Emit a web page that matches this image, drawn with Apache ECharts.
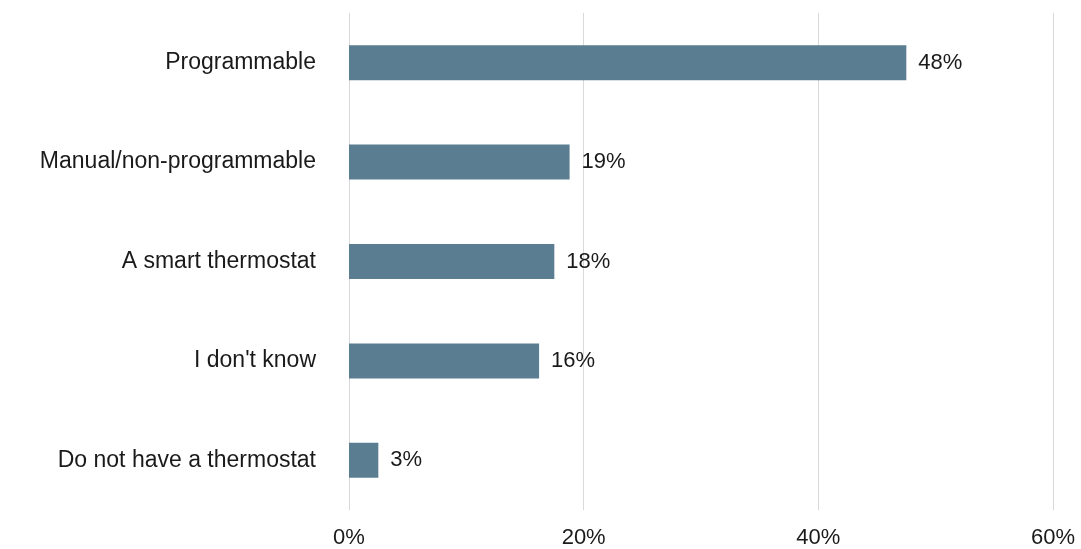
<!DOCTYPE html>
<html>
<head>
<meta charset="utf-8">
<script src="https://cdn.jsdelivr.net/npm/echarts@6/dist/echarts.min.js"></script>
<style>
  html, body { margin: 0; padding: 0; background: #ffffff; }
  #chart { width: 1081px; height: 549px; }
</style>
</head>
<body>
<div id="chart"></div>
<script>
// Thermostat type share (percent of respondents)
const categories = [
  'Programmable',
  'Manual/non-programmable',
  'A smart thermostat',
  "I don't know",
  'Do not have a thermostat'
];
const shares = [47.5, 18.8, 17.5, 16.2, 2.5];
const xTicks = [0, 20, 40, 60];

const chart = echarts.init(document.getElementById('chart'));
const font = 'Liberation Sans, Arial, sans-serif';

chart.setOption({
  animation: false,
  grid: { left: 349, right: 28, top: 13, bottom: 39, containLabel: false },
  xAxis: {
    type: 'value',
    min: xTicks[0],
    max: xTicks[xTicks.length - 1],
    interval: xTicks[1] - xTicks[0],
    axisLine: { show: false },
    axisTick: { show: false },
    splitLine: { show: true, lineStyle: { color: '#d9d9d9', width: 1 } },
    axisLabel: {
      formatter: v => v + '%',
      color: '#1a1a1a',
      fontFamily: font,
      fontSize: 22,
      margin: 17
    }
  },
  yAxis: {
    type: 'category',
    data: categories,
    inverse: true,
    axisLine: { show: false },
    axisTick: { show: false },
    splitLine: { show: false },
    axisLabel: {
      color: '#1a1a1a',
      fontFamily: font,
      fontSize: 23,
      margin: 33
    }
  },
  series: [{
    type: 'bar',
    data: shares,
    barWidth: 35,
    itemStyle: { color: '#5a7d91' },
    label: {
      show: true,
      position: 'right',
      distance: 12,
      formatter: p => Math.round(p.value) + '%',
      color: '#1a1a1a',
      fontFamily: font,
      fontSize: 22
    }
  }]
});
</script>
</body>
</html>
